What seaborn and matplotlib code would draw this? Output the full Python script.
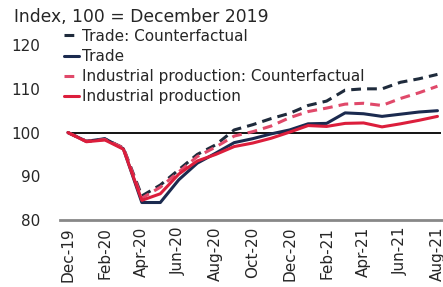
import numpy as np
import pandas as pd
import matplotlib
matplotlib.use("Agg")
import matplotlib.pyplot as plt
import seaborn as sns

months = ["Dec-19", "Jan-20", "Feb-20", "Mar-20", "Apr-20", "May-20", "Jun-20",
          "Jul-20", "Aug-20", "Sep-20", "Oct-20", "Nov-20", "Dec-20", "Jan-21",
          "Feb-21", "Mar-21", "Apr-21", "May-21", "Jun-21", "Jul-21", "Aug-21"]
trade_cf = [100, 98.0, 98.5, 96.5, 85.5, 88.0, 91.5, 95.0, 97.2, 100.6, 101.8,
            103.2, 104.4, 106.2, 107.2, 109.7, 110.0, 110.0, 111.5, 112.3, 113.3]
trade = [100, 98.0, 98.6, 96.3, 84.0, 84.0, 89.2, 93.0, 95.3, 97.7, 98.6,
         99.7, 100.6, 102.0, 102.1, 104.5, 104.3, 103.7, 104.2, 104.7, 105.0]
ip_cf = [100, 98.0, 98.4, 96.5, 85.0, 87.5, 91.0, 94.5, 96.7, 99.2, 100.2,
         101.5, 103.4, 104.8, 105.6, 106.5, 106.7, 106.2, 107.8, 109.1, 110.6]
ip = [100, 97.9, 98.3, 96.2, 84.5, 86.0, 90.5, 93.5, 95.0, 96.8, 97.6,
      98.7, 100.1, 101.6, 101.4, 102.1, 102.2, 101.3, 102.0, 102.8, 103.7]
tick_labels = months[::2]

sns.set_style("white")
plt.rcParams['font.family'] = ['DejaVu Sans']

df = pd.DataFrame({"t": np.arange(len(months)),
                   "Trade: Counterfactual": trade_cf,
                   "Trade": trade,
                   "Industrial production: Counterfactual": ip_cf,
                   "Industrial production": ip})
long = df.melt(id_vars="t", var_name="series", value_name="value")

order = ["Trade: Counterfactual", "Trade",
         "Industrial production: Counterfactual", "Industrial production"]
colors = {"Trade: Counterfactual": "#1f2b3c", "Trade": "#1b2a4f",
          "Industrial production: Counterfactual": "#e0496a",
          "Industrial production": "#dc1e3c"}
dashes = {"Trade: Counterfactual": (3.2, 2.0), "Trade": "",
          "Industrial production: Counterfactual": (3.2, 2.0),
          "Industrial production": ""}

fig = plt.figure(figsize=(4.43, 2.87), dpi=100)
ax = fig.add_axes([60/443, (287-220)/287, 383/443, (220-32)/287])

# reference line at 100
ax.hlines(100, 0, 20.2, color="black", lw=1.3, zorder=1)

sns.lineplot(data=long, x="t", y="value", hue="series", style="series",
             hue_order=order, style_order=order, palette=colors, dashes=dashes,
             linewidth=2.2, ax=ax, zorder=3)

ax.set_xlim(-0.43, 20.3)
ax.set_ylim(80, 123)
ax.set_yticks([80, 90, 100, 110, 120])
ax.set_xticks(np.arange(0, len(months), 2))
ax.set_xticklabels(tick_labels, rotation=90, fontsize=11)
ax.tick_params(axis="y", labelsize=11, length=0, pad=14)
ax.tick_params(axis="x", length=0, pad=5)
ax.set_xlabel("")
ax.set_ylabel("")
for s in ["top", "right", "left"]:
    ax.spines[s].set_visible(False)
ax.spines["bottom"].set_color("#888888")
ax.spines["bottom"].set_linewidth(2)

leg = ax.legend(loc="upper left", bbox_to_anchor=(-0.005, 1.05), frameon=False,
                fontsize=11, handlelength=1.0, handletextpad=0.15,
                labelspacing=0.34, borderaxespad=0)
for line in leg.get_lines():
    line.set_linewidth(2.2)

fig.text(14/443, 1 - 17/287, "Index, 100 = December 2019", fontsize=12.3,
         va="center", ha="left")

plt.savefig("out.png", dpi=100)
